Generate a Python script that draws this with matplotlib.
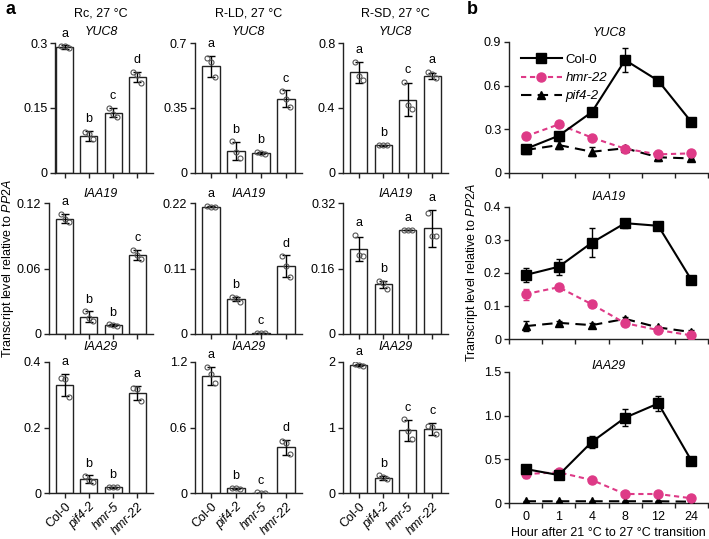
import numpy as np
import matplotlib
matplotlib.use('Agg')
import matplotlib.pyplot as plt
from matplotlib.lines import Line2D

plt.rcParams['font.family'] = ['Liberation Sans', 'DejaVu Sans']
plt.rcParams['mathtext.fontset'] = 'custom'
plt.rcParams['mathtext.rm'] = 'Liberation Sans'
plt.rcParams['mathtext.it'] = 'Liberation Sans:italic'

# ---- panel a data ----
genotypes = ['Col-0', 'pif4-2', 'hmr-5', 'hmr-22']
conditions = ['Rc, 27 °C', 'R-LD, 27 °C', 'R-SD, 27 °C']
genes = ['YUC8', 'IAA19', 'IAA29']

# one entry per condition (Rc, R-LD, R-SD), each with 4 genotypes
yuc8_mean = [[0.291, 0.086, 0.139, 0.222], [0.574, 0.119, 0.108, 0.400], [0.619, 0.171, 0.452, 0.598]]
yuc8_sd = [[0.004, 0.012, 0.010, 0.011], [0.058, 0.047, 0.006, 0.046], [0.065, 0.004, 0.100, 0.020]]
yuc8_reps = [[[0.294, 0.293, 0.289], [0.095, 0.090, 0.078], [0.150, 0.137, 0.129], [0.232, 0.225, 0.208]],
             [[0.618, 0.599, 0.519], [0.171, 0.114, 0.082], [0.112, 0.107, 0.104], [0.444, 0.400, 0.358]],
             [[0.684, 0.598, 0.574], [0.172, 0.171, 0.170], [0.562, 0.421, 0.393], [0.623, 0.608, 0.582]]]
yuc8_letters = [['a', 'b', 'c', 'd'], ['a', 'b', 'b', 'c'], ['a', 'b', 'c', 'a']]
yuc8_ticks = [[0, 0.15, 0.3], [0, 0.35, 0.7], [0, 0.4, 0.8]]
yuc8_ticklabels = [['0', '0.15', '0.3'], ['0', '0.35', '0.7'], ['0', '0.4', '0.8']]

iaa19_mean = [[0.1056, 0.0159, 0.0082, 0.0724], [0.2137, 0.0587, 0.0015, 0.1139], [0.2076, 0.121, 0.254, 0.258]]
iaa19_sd = [[0.004, 0.005, 0.0006, 0.0045], [0.001, 0.004, 0.0005, 0.018], [0.029, 0.0095, 0.001, 0.045]]
iaa19_reps = [[[0.110, 0.105, 0.103], [0.021, 0.015, 0.012], [0.0088, 0.0082, 0.0077], [0.077, 0.072, 0.069]],
              [[0.215, 0.214, 0.213], [0.062, 0.061, 0.053], [0.002, 0.0015, 0.001], [0.131, 0.114, 0.095]],
              [[0.242, 0.193, 0.190], [0.130, 0.124, 0.110], [0.255, 0.254, 0.253], [0.295, 0.240, 0.240]]]
iaa19_letters = [['a', 'b', 'b', 'c'], ['a', 'b', 'c', 'd'], ['a', 'b', 'a', 'a']]
iaa19_ticks = [[0, 0.06, 0.12], [0, 0.11, 0.22], [0, 0.16, 0.32]]
iaa19_ticklabels = [['0', '0.06', '0.12'], ['0', '0.11', '0.22'], ['0', '0.16', '0.32']]

iaa29_mean = [[0.330, 0.0417, 0.0173, 0.306], [1.071, 0.043, 0.003, 0.418], [1.954, 0.236, 0.958, 0.980]]
iaa29_sd = [[0.034, 0.0125, 0.001, 0.022], [0.084, 0.004, 0.001, 0.070], [0.012, 0.030, 0.160, 0.090]]
iaa29_reps = [[[0.350, 0.348, 0.294], [0.052, 0.040, 0.033], [0.018, 0.0175, 0.017], [0.321, 0.318, 0.282]],
              [[1.157, 1.090, 1.005], [0.048, 0.045, 0.037], [0.005, 0.003, 0.002], [0.476, 0.460, 0.354]],
              [[1.970, 1.960, 1.940], [0.270, 0.240, 0.210], [1.123, 0.943, 0.826], [1.030, 1.010, 0.908]]]
iaa29_letters = [['a', 'b', 'b', 'a'], ['a', 'b', 'c', 'd'], ['a', 'b', 'c', 'c']]
iaa29_ticks = [[0, 0.2, 0.4], [0, 0.6, 1.2], [0, 1, 2]]
iaa29_ticklabels = [['0', '0.2', '0.4'], ['0', '0.6', '1.2'], ['0', '1', '2']]

# ---- panel b data ----
hours = ['0', '1', '4', '8', '12', '24']
series_names = ['Col-0', 'hmr-22', 'pif4-2']

yuc8_col0 = [0.165, 0.256, 0.419, 0.776, 0.634, 0.350]
yuc8_col0_err = [0.012, 0.010, 0.012, 0.080, 0.010, 0.012]
yuc8_hmr22 = [0.252, 0.334, 0.243, 0.167, 0.128, 0.135]
yuc8_hmr22_err = [0.015, 0.012, 0.012, 0.010, 0.010, 0.010]
yuc8_pif4 = [0.158, 0.192, 0.146, 0.170, 0.108, 0.100]
yuc8_pif4_err = [0.015, 0.030, 0.030, 0.010, 0.025, 0.010]

iaa19_col0 = [0.194, 0.219, 0.292, 0.351, 0.343, 0.179]
iaa19_col0_err = [0.020, 0.024, 0.043, 0.014, 0.006, 0.006]
iaa19_hmr22 = [0.136, 0.157, 0.105, 0.048, 0.027, 0.011]
iaa19_hmr22_err = [0.017, 0.005, 0.008, 0.006, 0.004, 0.003]
iaa19_pif4 = [0.039, 0.049, 0.042, 0.061, 0.035, 0.021]
iaa19_pif4_err = [0.015, 0.006, 0.005, 0.006, 0.005, 0.005]

iaa29_col0 = [0.389, 0.320, 0.700, 0.977, 1.140, 0.485]
iaa29_col0_err = [0.030, 0.030, 0.067, 0.100, 0.090, 0.040]
iaa29_hmr22 = [0.332, 0.351, 0.263, 0.103, 0.103, 0.054]
iaa29_hmr22_err = [0.050, 0.020, 0.020, 0.015, 0.015, 0.010]
iaa29_pif4 = [0.020, 0.020, 0.020, 0.020, 0.020, 0.015]
iaa29_pif4_err = [0.004, 0.004, 0.004, 0.004, 0.004, 0.004]

b_ticks = [[0, 0.3, 0.6, 0.9], [0, 0.1, 0.2, 0.3, 0.4], [0, 0.5, 1.0, 1.5]]
b_ticklabels = [['0', '0.3', '0.6', '0.9'], ['0', '0.1', '0.2', '0.3', '0.4'], ['0', '0.5', '1.0', '1.5']]

# ---- figure ----
W, H = 709, 539
fig = plt.figure(figsize=(W / 100, H / 100), dpi=100)


def box(l, t, r, b):
    # pixel box -> figure fraction rect
    return [l / W, 1 - b / H, (r - l) / W, (b - t) / H]


FS = 9
PINK = '#DE3A87'
AX_COLOR = '#222222'

col_x = [(49, 153), (195, 302), (343, 448)]
row_y = [(43, 173), (203, 334), (362, 493)]
title_y = [32, 194, 347]

gene_data = [
    (yuc8_mean, yuc8_sd, yuc8_reps, yuc8_letters, yuc8_ticks, yuc8_ticklabels),
    (iaa19_mean, iaa19_sd, iaa19_reps, iaa19_letters, iaa19_ticks, iaa19_ticklabels),
    (iaa29_mean, iaa29_sd, iaa29_reps, iaa29_letters, iaa29_ticks, iaa29_ticklabels),
]
jitter = [-0.17, 0.0, 0.17]


def style_axis(ax):
    for s in ['top', 'right']:
        ax.spines[s].set_visible(False)
    for s in ['left', 'bottom']:
        ax.spines[s].set_color(AX_COLOR)
        ax.spines[s].set_linewidth(1.0)
    ax.tick_params(direction='out', length=3.5, width=1.0, color=AX_COLOR,
                   labelsize=FS, pad=2)


x = np.arange(len(genotypes))
for r, (means, sds, reps, letters, ticks, tlabels) in enumerate(gene_data):
    for c in range(3):
        left, right = col_x[c]
        xlo = -0.65
        if r == 0 and c == 0:
            left, xlo = 55, -0.4   # first panel sits a bit closer to its bars
        ax = fig.add_axes(box(left, row_y[r][0], right, row_y[r][1]))
        style_axis(ax)
        ax.bar(x, means[c], width=0.7, color='white', edgecolor=AX_COLOR,
               linewidth=1.0, zorder=1)
        ax.errorbar(x, means[c], yerr=sds[c], fmt='none', ecolor='black',
                    elinewidth=1.0, capsize=3, capthick=1.0, zorder=3)
        for i in range(len(genotypes)):
            ax.plot(x[i] + np.array(jitter), reps[c][i], 'o', ms=3.6,
                    mfc='none', mec='#555555', mew=0.8, zorder=4)
            top = max(means[c][i] + sds[c][i], max(reps[c][i]))
            ax.annotate(letters[c][i], (x[i], top), xytext=(0, 4),
                        textcoords='offset points', ha='center', va='bottom',
                        fontsize=FS)
        ax.set_ylim(0, ticks[c][-1])
        ax.set_yticks(ticks[c])
        ax.set_yticklabels(tlabels[c])
        ax.set_xlim(xlo, 3.65)
        ax.set_xticks(x)
        if r == 2:
            labs = ax.set_xticklabels(genotypes, rotation=45, ha='right',
                                      va='top', rotation_mode='anchor')
            for j, lab in enumerate(labs):
                if j > 0:
                    lab.set_style('italic')
        else:
            ax.set_xticklabels([])
        cx = (col_x[c][0] + col_x[c][1]) / 2
        fig.text(cx / W, 1 - title_y[r] / H, genes[r], style='italic',
                 ha='center', va='center', fontsize=FS)
        if r == 0:
            fig.text(cx / W, 1 - 13 / H, conditions[c], ha='center',
                     va='center', fontsize=FS)

fig.text(8 / W, 1 - 268 / H, r'Transcript level relative to $\mathit{PP2A}$',
         rotation=90, ha='center', va='center', fontsize=FS)
fig.text(5 / W, 1 - 10 / H, 'a', fontweight='bold', fontsize=13,
         ha='left', va='center')

# ---- panel b ----
b_rows = [(42, 173), (207, 339), (372, 503)]
b_title_y = [33, 197, 366]
b_data = [
    (yuc8_col0, yuc8_col0_err, yuc8_hmr22, yuc8_hmr22_err, yuc8_pif4, yuc8_pif4_err),
    (iaa19_col0, iaa19_col0_err, iaa19_hmr22, iaa19_hmr22_err, iaa19_pif4, iaa19_pif4_err),
    (iaa29_col0, iaa29_col0_err, iaa29_hmr22, iaa29_hmr22_err, iaa29_pif4, iaa29_pif4_err),
]
styles = {
    'Col-0': dict(color='black', ls='-', marker='s', ms=6.5),
    'hmr-22': dict(color=PINK, ls=(0, (2.5, 1.8)), marker='o', ms=6.5),
    'pif4-2': dict(color='black', ls=(0, (5, 3)), marker='^', ms=6),
}
xb = np.arange(len(hours))
for r, (c0, c0e, h22, h22e, p4, p4e) in enumerate(b_data):
    ax = fig.add_axes(box(509, b_rows[r][0], 708, b_rows[r][1]))
    style_axis(ax)
    for name, yv, ye, z in [('pif4-2', p4, p4e, 3), ('hmr-22', h22, h22e, 4), ('Col-0', c0, c0e, 5)]:
        ax.errorbar(xb, yv, yerr=ye, lw=1.5, capsize=2.5, elinewidth=1.0,
                    zorder=z, **styles[name])
    ax.set_xlim(-0.5, 5.5)
    ax.set_ylim(0, b_ticks[r][-1])
    ax.set_yticks(b_ticks[r])
    ax.set_yticklabels(b_ticklabels[r])
    ax.set_xticks(xb)
    ax.set_xticks(np.arange(-0.5, 6.0, 1.0), minor=True)
    ax.tick_params(axis='x', which='major', length=0, pad=6)
    ax.tick_params(axis='x', which='minor', length=3.5, width=1.0, color=AX_COLOR)
    if r == 2:
        ax.set_xticklabels(hours)
        ax.set_xlabel('Hour after 21 °C to 27 °C transition', fontsize=FS, labelpad=3)
    else:
        ax.set_xticklabels([])
    fig.text(609 / W, 1 - b_title_y[r] / H, genes[r], style='italic',
             ha='center', va='center', fontsize=FS)
    if r == 0:
        handles = [Line2D([], [], lw=1.5, **styles[n]) for n in series_names]
        leg = ax.legend(handles, series_names,
                        loc='upper left', bbox_to_anchor=(0.0, 1.0),
                        frameon=False, fontsize=9.5, handlelength=3.1,
                        handletextpad=0.3, labelspacing=0.45, borderaxespad=0.5)
        for t in leg.get_texts()[1:]:
            t.set_style('italic')

fig.text(472 / W, 1 - 272 / H, r'Transcript level relative to $\mathit{PP2A}$',
         rotation=90, ha='center', va='center', fontsize=FS)
fig.text(467 / W, 1 - 10 / H, 'b', fontweight='bold', fontsize=13,
         ha='left', va='center')

fig.savefig('out.png', dpi=100)
